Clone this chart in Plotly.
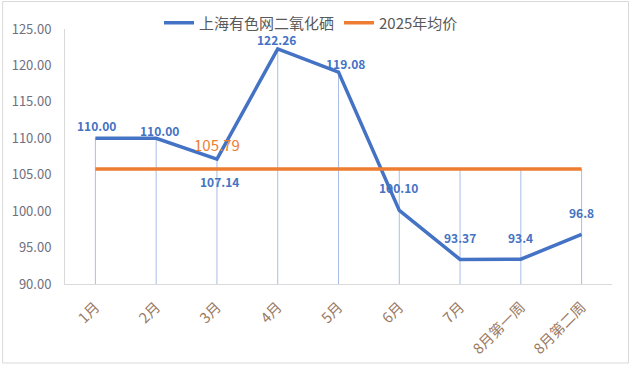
import plotly.graph_objects as go

categories = ["1月", "2月", "3月", "4月", "5月", "6月", "7月", "8月第一周", "8月第二周"]
selenium_dioxide = [110.00, 110.00, 107.14, 122.26, 119.08, 100.10, 93.37, 93.4, 96.8]
label_text = ["110.00", "110.00", "107.14", "122.26", "119.08", "100.10", "93.37", "93.4", "96.8"]
avg_2025 = 105.79
avg_values = [avg_2025] * len(categories)
y_ticks = [90, 95, 100, 105, 110, 115, 120, 125]

# label offsets in pixels (x, y) relative to each point
label_dx = [1, 3, 3, -1, 7, -1, 0, 0, 0]
label_dy = [13, 8, -22, 9, 9, 23, 22, 22, 22]

blue = "#4472c4"
orange = "#ed7d31"
FONT = "Noto Sans CJK SC"

y_min = 90
drop_top = [max(a, b) for a, b in zip(selenium_dioxide, avg_values)]

fig = go.Figure()

# drop lines (from highest series point down to the axis)
fig.add_trace(go.Scatter(
    x=categories, y=drop_top, mode="markers",
    marker=dict(size=0.1, color="rgba(0,0,0,0)"),
    error_y=dict(type="data", symmetric=False,
                 array=[0] * len(categories),
                 arrayminus=[t - y_min for t in drop_top],
                 color="#a9bde6", thickness=1, width=0),
    showlegend=False, hoverinfo="skip"))

fig.add_trace(go.Scatter(
    x=categories, y=selenium_dioxide, mode="lines",
    name="上海有色网二氧化硒",
    line=dict(color=blue, width=3.5),
))

fig.add_trace(go.Scatter(
    x=categories, y=avg_values, mode="lines",
    name="2025年均价",
    line=dict(color=orange, width=3.5),
))

for c, v, t, dx, dy in zip(categories, selenium_dioxide, label_text, label_dx, label_dy):
    fig.add_annotation(x=c, y=v, text=t, showarrow=False, xshift=dx, yshift=dy,
                       font=dict(family=FONT, size=12, color=blue, weight="bold"))

fig.add_annotation(x=categories[2], y=avg_2025, text=f"{avg_2025:.2f}",
                   showarrow=False, yshift=24,
                   font=dict(family=FONT, size=15, color=orange))

L, R = 64.5, 612.5
T, B = 29, 284
W, H = 632, 375
pw, ph = R - L, B - T

fig.add_shape(type="rect", xref="paper", yref="paper",
              x0=(2 - L) / pw, x1=(629 - L) / pw,
              y0=(B - 363) / ph, y1=(B - 1.5) / ph,
              line=dict(color="#d9d9d9", width=1), fillcolor="rgba(0,0,0,0)", layer="below")

fig.update_layout(
    width=W, height=H,
    margin=dict(l=L, r=W - R, t=T, b=H - B, autoexpand=False),
    paper_bgcolor="white", plot_bgcolor="white",
    font=dict(family=FONT, color="#595959"),
    legend=dict(orientation="h", xref="container", yref="container",
                x=311 / W, xanchor="center",
                y=1 - 23 / H, yanchor="middle",
                font=dict(size=15, color="#595959"),
                itemwidth=30, tracegroupgap=0, bgcolor="rgba(0,0,0,0)"),
    showlegend=True,
)

fig.update_xaxes(
    type="category", tickangle=-45, automargin=False,
    showgrid=False, showline=True, linecolor="#d9d9d9", linewidth=1,
    ticks="", ticklabelstandoff=8,
    tickfont=dict(family=FONT, size=14.5, color="#9a7a62"),
    range=[-0.5, len(categories) - 0.5],
)
fig.update_yaxes(
    range=[90, 125], tickvals=y_ticks, ticktext=[f"{v:.2f}" for v in y_ticks],
    automargin=False,
    showgrid=False, zeroline=False, showline=True, linecolor="#d9d9d9", linewidth=1,
    ticks="", ticklabelstandoff=10,
    tickfont=dict(family=FONT, size=13, color="#707080"),
)

fig.write_html("out.html", config={"displayModeBar": False},
               post_script="document.body.style.margin='0';document.body.style.overflow='hidden';")
